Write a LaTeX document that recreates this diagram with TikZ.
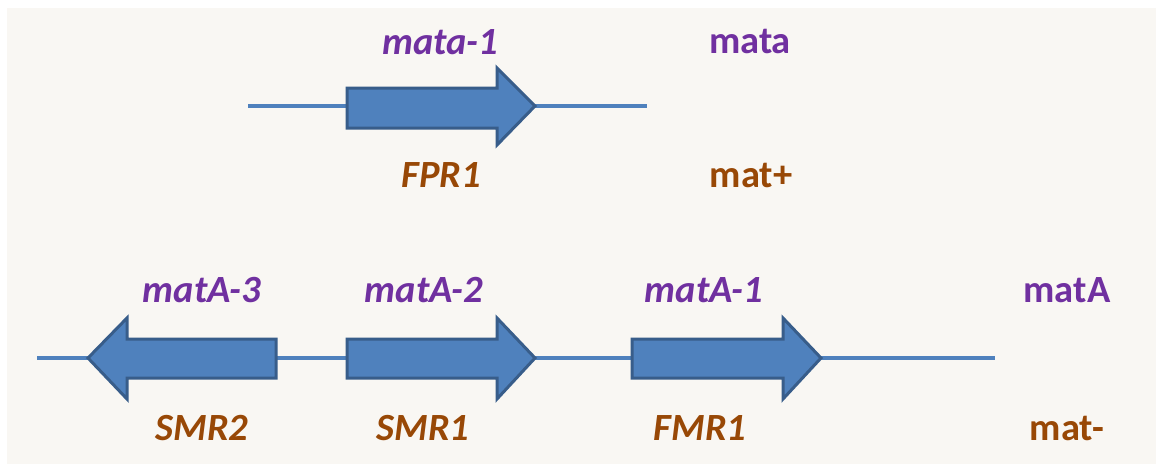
\documentclass[tikz,border=0pt]{standalone}
\usepackage{fontspec}
\setmainfont{Carlito}
\definecolor{bgc}{HTML}{F9F7F3}
\definecolor{purp}{HTML}{7030A0}
\definecolor{brn}{HTML}{984806}
\definecolor{gfill}{HTML}{4F81BD}
\definecolor{gline}{HTML}{385D8A}
\tikzset{
  lbl/.style={font=\fontsize{38.5}{44}\selectfont\bfseries, inner sep=0pt, anchor=base},
  gene/.style={lbl, text=purp},
  prot/.style={lbl, text=brn},
  dna/.style={draw=gfill, line width=3.5pt},
  arrowbox/.style={fill=gfill, draw=gline, line width=3pt, line join=miter}
}
\begin{document}
\begin{tikzpicture}[x=1pt,y=-1pt]
\useasboundingbox (0,0) rectangle (1156,464);
\fill[white] (0,0) rectangle (1156,464);
\fill[bgc] (7,8) rectangle (1156,464);
% DNA lines
\coordinate (t0) at (248,106);
\coordinate (t1) at (647,106);
\coordinate (b0) at (37,358);
\coordinate (b1) at (995,358);
\draw[dna] (t0) -- (t1);
\draw[dna] (b0) -- (b1);
% top arrow FPR1
\draw[arrowbox] (347,88) -- (497,88) -- (497,68) -- (535,106) -- (497,145) -- (497,128) -- (347,128) -- cycle;
% SMR2 (leftward)
\draw[arrowbox] (276,339) -- (127,339) -- (127,318) -- (88,358) -- (127,399) -- (127,378) -- (276,378) -- cycle;
% SMR1
\draw[arrowbox] (347,339) -- (497,339) -- (497,318) -- (535,358) -- (497,399) -- (497,378) -- (347,378) -- cycle;
% FMR1
\draw[arrowbox] (632,339) -- (783,339) -- (783,318) -- (821,358) -- (783,399) -- (783,378) -- (632,378) -- cycle;
% labels
\node[gene] (mata1) at (440,54) {\itshape mata-1};
\node[prot] (fpr1) at (441,187) {\itshape FPR1};
\node[gene] (mata) at (750,53) {mata};
\node[prot] (matp) at (751,187) {mat+};
\node[gene] (matA3) at (202,302) {\itshape matA-3};
\node[gene] (matA2) at (424,302) {\itshape matA-2};
\node[gene] (matA1) at (704,302) {\itshape matA-1};
\node[gene] (matA) at (1067,302) {matA};
\node[prot] (smr2) at (202,440) {\itshape SMR2};
\node[prot] (smr1) at (423,440) {\itshape SMR1};
\node[prot] (fmr1) at (700,440) {\itshape FMR1};
\node[prot] (matm) at (1067,440) {mat-};
\end{tikzpicture}
\end{document}
